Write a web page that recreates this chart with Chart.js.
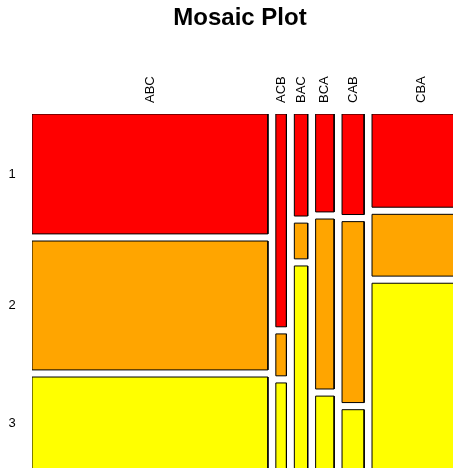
<!DOCTYPE html>
<html>
<head>
<meta charset="utf-8">
<title>Mosaic Plot</title>
<script src="https://cdn.jsdelivr.net/npm/chart.js@4/dist/chart.umd.min.js"></script>
<style>
  html, body { margin: 0; padding: 0; overflow: hidden; background: #fff; }
  #wrap { width: 453px; height: 468px; overflow: hidden; }
</style>
</head>
<body>
<div id="wrap"><canvas id="mosaic" width="480" height="480"></canvas></div>
<script>
// categories
var orders = ['ABC', 'ACB', 'BAC', 'BCA', 'CAB', 'CBA'];
var levels = ['1', '2', '3'];
// counts per level
var level1 = [82.8, 6.6, 4.0, 5.3, 6.5, 27.0];
var level2 = [89.0, 1.3, 1.4, 9.2, 11.7, 17.9];
var level3 = [64.2, 2.7, 8.0, 4.0, 3.9, 54.1];
var fills = ['#FF0000', '#FFA500', '#FFFF00'];

var rows = [level1, level2, level3];
var GAP_X = 18, GAP_Y = 20;   // spacing between tiles, in axis units (0..1000)

var colTotals = orders.map(function(o, j){
  return rows.reduce(function(s, r){ return s + r[j]; }, 0);
});
var grand = colTotals.reduce(function(a, b){ return a + b; }, 0);
var usableX = 1000 - (orders.length - 1) * GAP_X;
var usableY = 1000 - (levels.length - 1) * GAP_Y;

var datasets = [];
var colCenters = [];
var rowCenters = [];
var x0 = 0;
orders.forEach(function(o, j){
  var w = colTotals[j] / grand * usableX;
  var y0 = 0;
  colCenters.push(x0 + w / 2);
  rows.forEach(function(r, i){
    var h = r[j] / colTotals[j] * usableY;
    if (j === 0) rowCenters.push(y0 + h / 2);
    datasets.push({
      label: o + ' / ' + levels[i],
      data: [
        {x: x0, y: y0}, {x: x0 + w, y: y0},
        {x: x0 + w, y: y0 + h}, {x: x0, y: y0 + h}, {x: x0, y: y0}
      ],
      showLine: true,
      fill: 'shape',
      backgroundColor: fills[i],
      borderColor: '#000',
      borderWidth: 1,
      pointRadius: 0,
      tension: 0
    });
    y0 += h + GAP_Y;
  });
  x0 += w + GAP_X;
});

var labelPlugin = {
  id: 'mosaicLabels',
  afterDraw: function(chart){
    var ctx = chart.ctx, xs = chart.scales.x, ys = chart.scales.y;
    ctx.save();
    ctx.fillStyle = '#000';
    ctx.font = 'bold 24px "Liberation Sans", Arial, sans-serif';
    ctx.textAlign = 'center';
    ctx.textBaseline = 'alphabetic';
    ctx.fillText('Mosaic Plot', 240, 25);

    ctx.font = '13px "Liberation Sans", Arial, sans-serif';
    orders.forEach(function(o, j){
      ctx.save();
      ctx.translate(xs.getPixelForValue(colCenters[j]), chart.chartArea.top - 11);
      ctx.rotate(-Math.PI / 2);
      ctx.textAlign = 'left';
      ctx.textBaseline = 'middle';
      ctx.fillText(o, 0, 0);
      ctx.restore();
    });
    ctx.textAlign = 'center';
    ctx.textBaseline = 'middle';
    levels.forEach(function(l, i){
      ctx.fillText(l, 12, ys.getPixelForValue(rowCenters[i]));
    });
    ctx.restore();
  }
};

new Chart(document.getElementById('mosaic'), {
  type: 'scatter',
  data: { datasets: datasets },
  options: {
    responsive: false,
    animation: false,
    devicePixelRatio: 1,
    layout: { padding: { left: 32, top: 114, right: 9, bottom: 10 } },
    scales: {
      x: { type: 'linear', min: 0, max: 1000, display: false },
      y: { type: 'linear', min: 0, max: 1000, reverse: true, display: false }
    },
    plugins: {
      legend: { display: false },
      title: { display: false },
      tooltip: { enabled: false }
    }
  },
  plugins: [labelPlugin]
});
</script>
</body>
</html>
